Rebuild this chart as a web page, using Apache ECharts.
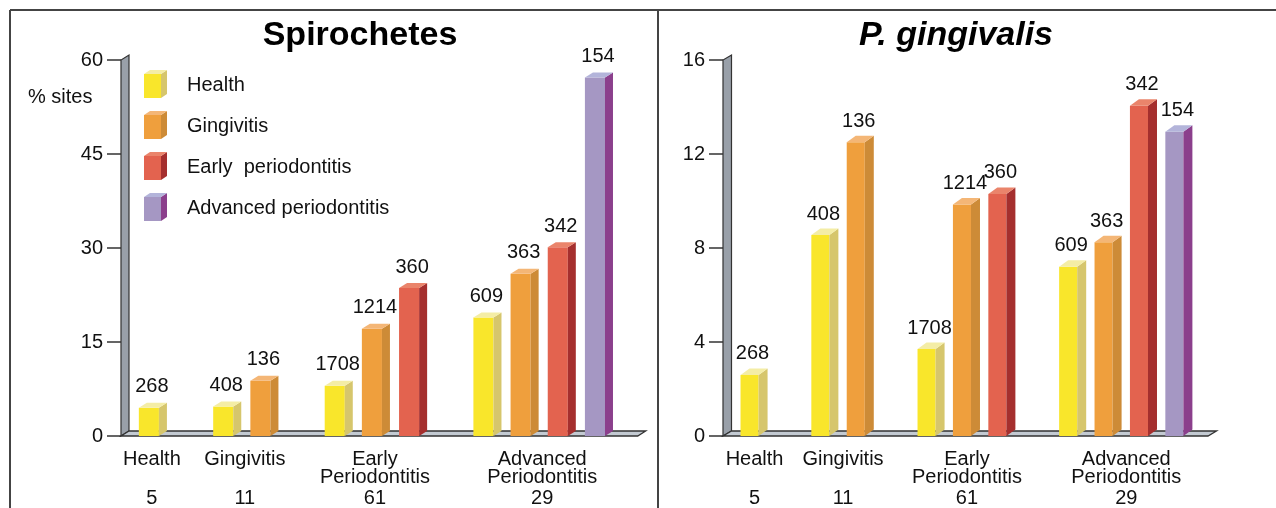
<!DOCTYPE html>
<html>
<head>
<meta charset="utf-8">
<script src="https://cdn.jsdelivr.net/npm/echarts@6/dist/echarts.min.js"></script>
<style>
  html, body { margin: 0; padding: 0; background: #ffffff; }
  #chart { width: 1276px; height: 508px; }
</style>
</head>
<body>
<div id="chart"></div>
<script>
// Clinical groups along the x axis, with the number of subjects in each
const groupNames = ['Health', 'Gingivitis', 'Early\nPeriodontitis', 'Advanced\nPeriodontitis'];
const subjectCounts = [5, 11, 61, 29];

// Site status (one bar colour each)
const siteStates = ['Health', 'Gingivitis', 'Early  periodontitis', 'Advanced periodontitis'];

// Number of sites behind each bar (same in both panels)
const sitesHealthy = [268, 408, 1708, 609];
const sitesGingivitis = [null, 136, 1214, 363];
const sitesEarly = [null, null, 360, 342];
const sitesAdvanced = [null, null, null, 154];

// % of sites positive for spirochetes
const spiroHealthy = [4.5, 4.7, 8.0, 18.9];
const spiroGingivitis = [null, 8.8, 17.1, 25.9];
const spiroEarly = [null, null, 23.6, 30.1];
const spiroAdvanced = [null, null, null, 57.2];

// % of sites positive for P. gingivalis
const pgHealthy = [2.6, 8.55, 3.7, 7.2];
const pgGingivitis = [null, 12.5, 9.85, 8.25];
const pgEarly = [null, null, 10.3, 14.05];
const pgAdvanced = [null, null, null, 12.95];

// Value-axis tick labels
const spiroTicks = [0, 15, 30, 45, 60];
const pgTicks = [0, 4, 8, 12, 16];

const FONT = '"Liberation Sans", Arial, Helvetica, sans-serif';
const INK = '#111111';

// front / side / top shades of each 3-D bar colour
const shades = [
  { front: '#f9e62b', side: '#d6c66c', top: '#f4eda5' },
  { front: '#ef9f3d', side: '#cd8b37', top: '#f4b676' },
  { front: '#e3634f', side: '#a52f2e', top: '#ea846b' },
  { front: '#a597c3', side: '#8b3f8c', top: '#b3b4da' }
];

const siteCounts = [sitesHealthy, sitesGingivitis, sitesEarly, sitesAdvanced];

// Bars sit in consecutive slots within a group, with one empty slot between groups
function buildSlots(seriesValues) {
  const slotOf = seriesValues.map(() => []);
  const centers = [];
  let cursor = 0;
  groupNames.forEach((_, g) => {
    let k = 0;
    seriesValues.forEach((vals, s) => {
      if (vals[g] != null) { slotOf[s][g] = cursor + k; k++; }
    });
    centers.push(cursor + (k - 1) / 2);
    cursor += k + 1;
  });
  return { slotOf, centers };
}

function buildPanel(idx, seriesValues, look) {
  const { slotOf, centers } = buildSlots(seriesValues);
  const out = [];

  // back wall (value axis) and floor
  out.push({
    type: 'custom', xAxisIndex: idx, yAxisIndex: idx, silent: true, z: 1,
    data: [[0, 0]],
    renderItem: function (params) {
      const cs = params.coordSys;
      const x0 = cs.x, y0 = cs.y, w = cs.width, yb = cs.y + cs.height;
      const dx = look.wallDx, dy = look.wallDy;
      return {
        type: 'group',
        children: [
          { type: 'polygon', shape: { points: [[x0, yb], [x0, y0], [x0 + dx, y0 - dy], [x0 + dx, yb - dy]] },
            style: { fill: '#99a0a9', stroke: '#333333', lineWidth: 1.2 } },
          { type: 'polygon', shape: { points: [[x0, yb], [x0 + dx, yb - dy], [x0 + w + dx, yb - dy], [x0 + w, yb]] },
            style: { fill: '#c3cad2', stroke: '#333333', lineWidth: 1.3 } }
        ]
      };
    }
  });

  // 3-D bars
  seriesValues.forEach((vals, s) => {
    const data = [];
    vals.forEach((v, g) => {
      if (v != null) data.push([slotOf[s][g], v, siteCounts[s][g]]);
    });
    const c = shades[s];
    out.push({
      type: 'custom', name: siteStates[s], xAxisIndex: idx, yAxisIndex: idx, z: 3,
      encode: { x: 0, y: 1 },
      data: data,
      renderItem: function (params, api) {
        const p = api.coord([api.value(0), api.value(1)]);
        const b = api.coord([api.value(0), 0]);
        const w = api.size([1, 0])[0] * look.barFrac;
        const dx = look.barDx, dy = look.barDy;
        const l = p[0] - w / 2, r = p[0] + w / 2, t = p[1], yb = b[1];
        return {
          type: 'group',
          children: [
            { type: 'rect', shape: { x: l, y: t, width: w, height: yb - t }, style: { fill: c.front } },
            { type: 'polygon', shape: { points: [[r, t], [r + dx, t - dy], [r + dx, yb - dy], [r, yb]] }, style: { fill: c.side } },
            { type: 'polygon', shape: { points: [[l, t], [l + dx, t - dy], [r + dx, t - dy], [r, t]] }, style: { fill: c.top } },
            { type: 'text', style: { text: String(api.value(2)), x: p[0] + 3, y: t - 21,
              align: 'center', verticalAlign: 'middle', fontSize: 20, fontFamily: FONT, fill: INK } }
          ]
        };
      }
    });
  });

  // group names and subject counts under the floor
  out.push({
    type: 'custom', xAxisIndex: idx, yAxisIndex: idx, silent: true, z: 2,
    data: centers.map((cx, g) => [cx, 0, g]),
    renderItem: function (params, api) {
      const p = api.coord([api.value(0), 0]);
      const g = api.value(2);
      const x = p[0] + look.labelShift;
      return {
        type: 'group',
        children: [
          { type: 'text', style: { text: groupNames[g], x: x, y: p[1] + 14, align: 'center', verticalAlign: 'top',
            lineHeight: 18, fontSize: 20, fontFamily: FONT, fill: INK } },
          { type: 'text', style: { text: String(subjectCounts[g]), x: x, y: p[1] + 62, align: 'center', verticalAlign: 'middle',
            fontSize: 20, fontFamily: FONT, fill: INK } }
        ]
      };
    }
  });
  return out;
}

const leftLook = { barFrac: 0.54, barDx: 8, barDy: 5, wallDx: 8, wallDy: 5, labelShift: 3 };
const rightLook = { barFrac: 0.51, barDx: 9, barDy: 6.5, wallDx: 8.5, wallDy: 5, labelShift: 5 };

function valueAxis(gridIndex, ticks) {
  return {
    gridIndex: gridIndex, type: 'value', position: 'left',
    min: ticks[0], max: ticks[ticks.length - 1], interval: ticks[1] - ticks[0],
    axisLine: { show: false, onZero: false },
    axisTick: { show: true, inside: false, length: 14, lineStyle: { color: '#333333', width: 1.5 } },
    axisLabel: { fontSize: 20, color: INK, margin: 18, fontFamily: FONT },
    splitLine: { show: false }
  };
}
function slotAxis(gridIndex, max) {
  return {
    gridIndex: gridIndex, type: 'value', min: -0.75, max: max,
    axisLine: { show: false, onZero: false }, axisTick: { show: false }, axisLabel: { show: false }, splitLine: { show: false }
  };
}

// legend cubes and labels
const legendItems = siteStates.map((name, i) => {
  const y = 74 + 41 * i, x = 144, w = 17, h = 24, dx = 6, dy = 4;
  const c = shades[i];
  return {
    type: 'group',
    children: [
      { type: 'rect', shape: { x: x, y: y, width: w, height: h }, style: { fill: c.front } },
      { type: 'polygon', shape: { points: [[x + w, y], [x + w + dx, y - dy], [x + w + dx, y + h - dy], [x + w, y + h]] }, style: { fill: c.side } },
      { type: 'polygon', shape: { points: [[x, y], [x + dx, y - dy], [x + w + dx, y - dy], [x + w, y]] }, style: { fill: c.top } },
      { type: 'text', style: { text: name, x: 187, y: y + 11, verticalAlign: 'middle', fontSize: 20, fontFamily: FONT, fill: INK } }
    ]
  };
});

const chart = echarts.init(document.getElementById('chart'), null, { renderer: 'canvas' });
chart.setOption({
  backgroundColor: '#ffffff',
  animation: false,
  title: [
    { text: 'Spirochetes', left: 360, top: 19, textAlign: 'center', padding: 0,
      textStyle: { fontSize: 34, fontWeight: 'bold', color: '#000000', fontFamily: FONT } },
    { text: 'P. gingivalis', left: 956, top: 19, textAlign: 'center', padding: 0,
      textStyle: { fontSize: 34, fontWeight: 'bold', fontStyle: 'italic', color: '#000000', fontFamily: FONT } }
  ],
  grid: [
    { left: 121, top: 60, width: 516.7, height: 376 },
    { left: 723, top: 60, width: 485, height: 376 }
  ],
  xAxis: [slotAxis(0, 13.15), slotAxis(1, 12.95)],
  yAxis: [valueAxis(0, spiroTicks), valueAxis(1, pgTicks)],
  series: [].concat(
    buildPanel(0, [spiroHealthy, spiroGingivitis, spiroEarly, spiroAdvanced], leftLook),
    buildPanel(1, [pgHealthy, pgGingivitis, pgEarly, pgAdvanced], rightLook)
  ),
  graphic: [
    { type: 'line', shape: { x1: 10, y1: 10, x2: 1276, y2: 10 }, style: { stroke: '#444444', lineWidth: 2 } },
    { type: 'line', shape: { x1: 10, y1: 10, x2: 10, y2: 508 }, style: { stroke: '#444444', lineWidth: 2 } },
    { type: 'line', shape: { x1: 658, y1: 10, x2: 658, y2: 508 }, style: { stroke: '#444444', lineWidth: 2 } },
    { type: 'text', style: { text: '% sites', x: 28, y: 97, verticalAlign: 'middle', fontSize: 20, fontFamily: FONT, fill: INK } }
  ].concat(legendItems)
});
</script>
</body>
</html>
